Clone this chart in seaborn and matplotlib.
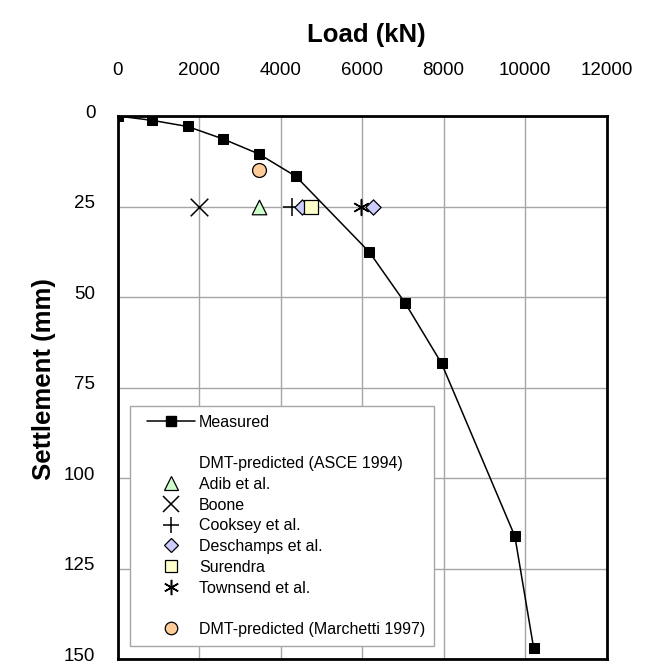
import matplotlib
matplotlib.use("Agg")
import matplotlib.pyplot as plt
from matplotlib.lines import Line2D
from matplotlib.legend_handler import HandlerLine2D
from matplotlib.transforms import ScaledTranslation
import seaborn as sns
import pandas as pd

# ---------------- data ----------------
measured_load = [0, 850, 1720, 2580, 3470, 4380, 6180, 7060, 7950, 9750, 10210]
measured_settlement = [0, 1.2, 2.9, 6.3, 10.5, 16.7, 37.6, 51.7, 68.3, 116.1, 146.9]

adib_load = [3470]
adib_settlement = [25]
boone_load = [2000]
boone_settlement = [25]
cooksey_load = [4270]
cooksey_settlement = [25]
deschamps_load = [4520, 6260]
deschamps_settlement = [25, 25]
surendra_load = [4750]
surendra_settlement = [25]
townsend_load = [5980]
townsend_settlement = [25]
marchetti_load = [3480]
marchetti_settlement = [14.9]

x_ticks = [0, 2000, 4000, 6000, 8000, 10000, 12000]
y_ticks = [0, 25, 50, 75, 100, 125, 150]

# ---------------- style ----------------
sns.set_theme(style="white")
plt.rcParams["font.family"] = ["Liberation Sans", "DejaVu Sans"]
plt.rcParams["text.color"] = "black"
plt.rcParams["axes.labelcolor"] = "black"
plt.rcParams["xtick.color"] = "black"
plt.rcParams["ytick.color"] = "black"

fig = plt.figure(figsize=(6.49, 6.64), dpi=100)
ax = fig.add_axes([0.1811, 0.0075, 0.7535, 0.8178])

df_meas = pd.DataFrame({"load": measured_load, "settlement": measured_settlement})
sns.lineplot(data=df_meas, x="load", y="settlement", ax=ax, color="black",
             linewidth=1.1, marker="s", markersize=7.2, markeredgecolor="black",
             markerfacecolor="black", sort=False, zorder=4)

def scat(xs, ys, marker, face, size, lw=0.9):
    filled = marker not in ("+", "x", "1", "2", "3", "4")
    if filled:
        sns.scatterplot(x=xs, y=ys, ax=ax, marker=marker, s=size, color=face,
                        edgecolor="black", linewidth=lw, zorder=5, legend=False)
    else:
        sns.scatterplot(x=xs, y=ys, ax=ax, marker=marker, s=size, color="black",
                        linewidth=lw, zorder=5, legend=False)

scat(adib_load, adib_settlement, "^", "#ccffcc", 110)
scat(boone_load, boone_settlement, "x", "black", 160, 1.1)
scat(cooksey_load, cooksey_settlement, "+", "black", 160, 1.1)
scat(deschamps_load, deschamps_settlement, "D", "#ccccff", 60)
scat(surendra_load, surendra_settlement, "s", "#ffffcc", 100)
ax.scatter(townsend_load, townsend_settlement, marker=(6, 2, 0), s=130,
           color="black", linewidth=1.1, zorder=5)
scat(marchetti_load, marchetti_settlement, "o", "#ffcc99", 100)

# ---------------- axes ----------------
ax.set_xlim(0, 12000)
ax.set_ylim(150, 0)
ax.xaxis.tick_top()
ax.xaxis.set_label_position("top")
ax.set_xticks(x_ticks)
ax.set_xticklabels([str(t) for t in x_ticks])
ax.set_yticks(y_ticks)
ax.set_yticklabels([str(t) for t in y_ticks])
ax.tick_params(axis="x", length=0, pad=27, labelsize=13.5, colors="black")
ax.tick_params(axis="y", length=0, pad=16, labelsize=13.5, colors="black")
ax.set_xlabel("Load (kN)", fontsize=18.5, fontweight="bold", labelpad=14,
              color="black")
ax.xaxis.label.set_x(0.508)
ax.set_ylabel("Settlement (mm)", fontsize=18.5, fontweight="bold", labelpad=6,
              color="black")
ax.yaxis.label.set_y(0.516)

shift = ScaledTranslation(0, 3.5 / 72, fig.dpi_scale_trans)
for lab in ax.get_yticklabels():
    lab.set_transform(lab.get_transform() + shift)

ax.grid(True, color="#a6a6a6", linewidth=1.0)
ax.set_axisbelow(True)
for s in ax.spines.values():
    s.set_visible(True)
    s.set_color("black")
    s.set_linewidth(2.0)
    s.set_zorder(6)

# ---------------- legend ----------------
blank = Line2D([], [], linestyle="none", marker=None)
handles = [
    Line2D([], [], color="black", linewidth=1.1, marker="s", markersize=7),
    blank,
    blank,
    Line2D([], [], linestyle="none", marker="^", markersize=10,
           markerfacecolor="#ccffcc", markeredgecolor="black", markeredgewidth=0.9),
    Line2D([], [], linestyle="none", marker="x", markersize=11,
           color="black", markeredgewidth=1.1),
    Line2D([], [], linestyle="none", marker="+", markersize=12,
           color="black", markeredgewidth=1.1),
    Line2D([], [], linestyle="none", marker="D", markersize=7.5,
           markerfacecolor="#ccccff", markeredgecolor="black", markeredgewidth=0.9),
    Line2D([], [], linestyle="none", marker="s", markersize=9,
           markerfacecolor="#ffffcc", markeredgecolor="black", markeredgewidth=0.9),
    Line2D([], [], linestyle="none", marker=(6, 2, 0), markersize=11,
           color="black", markeredgewidth=1.1),
    blank,
    Line2D([], [], linestyle="none", marker="o", markersize=9,
           markerfacecolor="#ffcc99", markeredgecolor="black", markeredgewidth=0.9),
]
labels = ["Measured", " ", "DMT-predicted (ASCE 1994)", "Adib et al.", "Boone",
          "Cooksey et al.", "Deschamps et al.", "Surendra", "Townsend et al.", " ",
          "DMT-predicted (Marchetti 1997)"]
fs_leg = 11.5
leg = ax.legend(handles, labels, loc="lower left", bbox_to_anchor=(0.0256, 0.024),
                borderaxespad=0, fontsize=fs_leg, frameon=True, fancybox=False,
                framealpha=1, edgecolor="#a6a6a6", handlelength=3.5,
                handletextpad=0.26, labelspacing=0.36, borderpad=0.56,
                handler_map={Line2D: HandlerLine2D(xpad=0.5)})
leg.get_frame().set_linewidth(1.0)
leg.set_zorder(7)

fig.savefig("out.png", dpi=100)
